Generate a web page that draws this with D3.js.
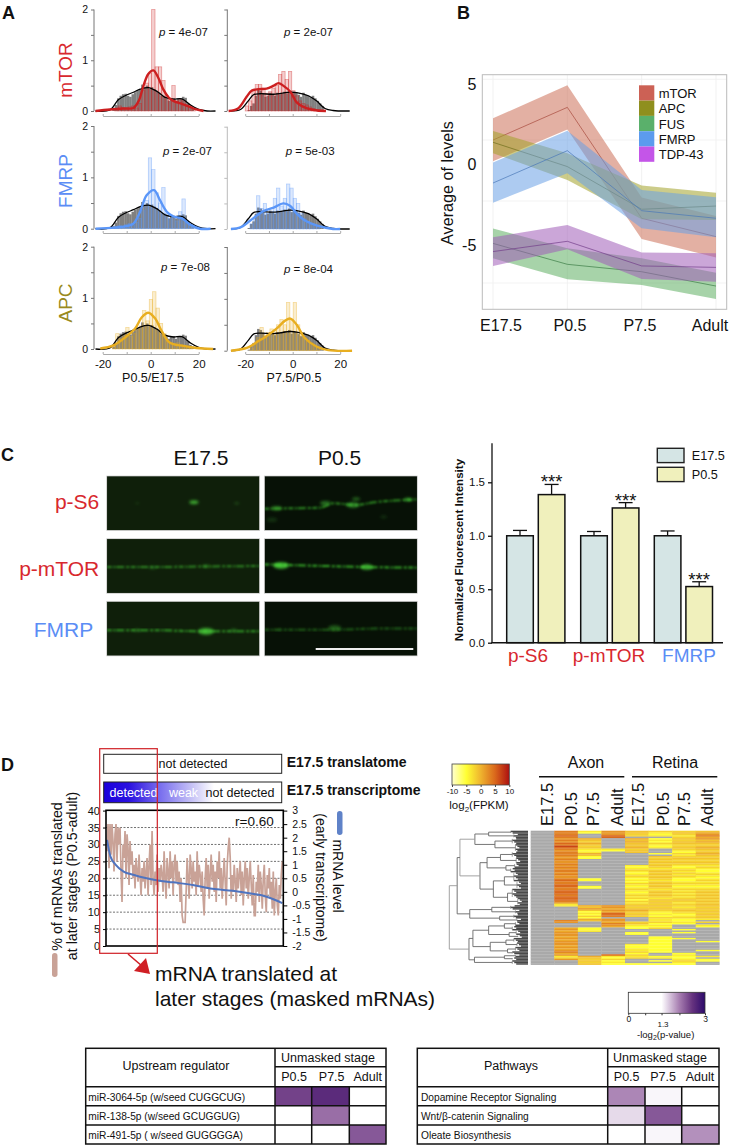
<!DOCTYPE html>
<html><head><meta charset="utf-8">
<script src="https://cdn.jsdelivr.net/npm/d3@7"></script>
<style>
html,body{margin:0;padding:0;background:#fff}
svg{display:block}
text{font-family:"Liberation Sans",Arial,sans-serif;fill:#111}
</style></head><body>
<script>
// ---------- Panel A data ----------
const histStep = 1.4;
const bgLeftStart = -16, bgRightStart = -19;
const bgLeft = [.05,.12,.25,.3,.33,.34,.3,.28,.33,.37,.4,.42,.52,.46,.5,.44,.47,.43,.4,.36,.3,.28,.25,.2,.24,.25,.2,.25,.24,.28,.26,.15,.08,.05];
const bgRight = [.02,.1,.15,.3,.42,.4,.35,.28,.3,.36,.32,.3,.36,.33,.34,.38,.35,.4,.33,.38,.36,.32,.28,.36,.32,.3,.27,.3,.25,.2,.15,.1];
const mtorLeftHist = [.04,.1,.06,.05,.08,.1,.06,.15,.4,.55,.75,2.0,.87,.87,.6,.3,.25,.5,.2,.22,.2,.12,.1,.05];
const mtorRightHist = [.1,.2,.42,.52,.52,.45,.35,.38,.45,.5,.72,.78,.62,.78,.4,.3,.2,.15,.12,.08,.05];
const fmrpLeftHist = [.03,.06,.05,.08,.1,.06,.12,.2,.35,.55,1.38,1.15,.7,.5,.8,.3,.2,.22,.15,.33,.58,.15,.08,.03];
const fmrpRightHist = [.1,.2,.65,.4,.5,.3,.35,.6,.8,.45,.6,.88,.8,.6,.5,.3,.2,.15,.1,.08,.05];
const apcLeftHist = [.08,.3,.2,.28,.42,.25,.3,.4,.45,.75,.55,.97,1.12,.8,.5,.3,.15,.12,.1,.12,.08,.05,.04,.03];
const apcRightHist = [.05,.12,.25,.45,.3,.35,.42,.4,.5,.6,.5,.93,.6,.93,.5,.35,.25,.2,.15,.1,.06];
const blackLeft = [[-23,0],[-17,.02],[-13.5,.22],[-10.7,.3],[-7.2,.37],[-4.4,.43],[-1,.46],[2.5,.39],[6,.27],[9.5,.235],[13,.24],[16.5,.12],[20,.03],[23.5,0],[27,0]];
const blackRight = [[-26,0],[-22,.03],[-18.7,.2],[-16.5,.32],[-13.7,.34],[-8,.33],[-1,.37],[1.7,.36],[6.6,.3],[10,.2],[13.6,.05],[17,.01],[24,0]];
const mtorLeftLine = [[-23,0],[-17,.03],[-11.4,.05],[-7.2,.06],[-5,.2],[-3,.5],[-1,.73],[1.1,.8],[3.2,.65],[5.3,.42],[7.4,.27],[9.4,.2],[13,.14],[16.4,.08],[19,.03],[22,0]];
const mtorRightLine = [[-27,0],[-23,.05],[-19.4,.28],[-17.3,.4],[-14.4,.43],[-11,.44],[-8,.5],[-6,.55],[-4,.5],[-1,.38],[1.7,.17],[4.5,.08],[8.7,.02],[14,0]];
const fmrpLeftLine = [[-23,0],[-10,.05],[-7.2,.1],[-4.4,.33],[-1.7,.65],[1.4,.75],[3.9,.55],[6.7,.33],[9.4,.24],[13,.2],[16.4,.08],[20.5,0],[25,0]];
const fmrpRightLine = [[-26,0],[-22,.03],[-18,.16],[-12.4,.35],[-8,.42],[-4,.5],[-1,.45],[1.7,.3],[5,.17],[10,.07],[17,0],[20,0]];
const apcLeftLine = [[-21,.01],[-15.5,.07],[-10,.25],[-6.5,.4],[-3.7,.62],[-1,.71],[1.8,.6],[4.6,.35],[8,.12],[13.7,.06],[19,.02],[26,0]];
const apcRightLine = [[-26,0],[-19,.06],[-15,.17],[-11,.28],[-6.7,.43],[-3.2,.58],[-1,.62],[1.7,.5],[5,.25],[10,.08],[15,.01],[25,0]];
const mtorLeftStart=-15, mtorRightStart=-20, fmrpLeftStart=-15, fmrpRightStart=-18, apcLeftStart=-16, apcRightStart=-18;
const pValues = ["4e-07","2e-07","2e-07","5e-03","7e-08","8e-04"];
const rowNames = ["mTOR","FMRP","APC"];
const xTicksA = [-20,-10,0,10,20];
const yTicksA = [0,.5,1,1.5,2];

// ---------- Panel B data ----------
const stages = ["E17.5","P0.5","P7.5","Adult"];
const bandNames = ["mTOR","APC","FUS","FMRP","TDP-43"];
const mtorMean=[1.52,3.55,-3.34,-4.48], mtorUp=[2.87,4.92,-2.05,-3.2], mtorLo=[.2,2.18,-4.63,-5.77];
const apcMean=[1.38,-.13,-2.78,-2.58], apcUp=[2.08,.7,-1.31,-1.75], apcLo=[.7,-.96,-3.4,-3.45];
const fusMean=[-4.9,-6.2,-6.66,-7.55], fusUp=[-3.97,-5.2,-5.83,-6.72], fusLo=[-5.83,-7.13,-7.48,-8.35];
const fmrpMean=[-1.15,.86,-2.87,-3.34], fmrpUp=[.13,2.1,-1.58,-2.04], fmrpLo=[-2.37,-.55,-3.96,-4.52];
const tdpMean=[-5.41,-4.77,-6.3,-6.39], tdpUp=[-4.52,-3.76,-5.46,-5.52], tdpLo=[-6.3,-5.27,-7.11,-7.28];

// ---------- Panel C data ----------
const proteins = ["p-S6","p-mTOR","FMRP"];
const e175Bars = [1,1,1], p05Bars = [1.385,1.26,.525];
const e175Err = [1.05,1.04,1.045], p05Err = [1.48,1.31,.57];
// fluorescent traces: [x fraction, y fraction]; spots: [x fraction, y fraction, radius, strength]
const traceS6E = [[0,.5],[.3,.5],[.6,.5],[1,.5]], spotsS6E = [[.57,.48,3.5,.7],[.2,.5,1.5,.2],[.85,.5,2,.25]];
const traceS6P = [[0,.6],[.2,.59],[.37,.58],[.45,.5],[.6,.53],[.72,.48],[.85,.45],[1,.43]], spotsS6P = [[.08,.59,4,.4],[.4,.5,4,.45],[.58,.53,5,.5],[.6,.42,3,.4],[.94,.43,3,.6],[.05,.8,4,.15],[.78,.75,2.5,.15]];
const traceME = [[0,.52],[.3,.52],[.6,.51],[1,.5]], spotsME = [[.65,.5,3,.25],[.3,.53,3,.2]];
const traceMP = [[0,.47],[.12,.48],[.4,.5],[.67,.52],[1,.53]], spotsMP = [[.11,.49,6,.8],[.67,.52,5,.7]];
const traceFE = [[0,.53],[.3,.53],[.65,.55],[1,.55]], spotsFE = [[.65,.55,6,.7],[.83,.53,2.5,.3],[.2,.53,3,.2]];
const traceFP = [[0,.52],[.45,.52],[.72,.5],[1,.5]], spotsFP = [[.46,.49,5,.35],[.1,.52,2,.15]];

// ---------- Panel D data ----------
const translated = [28,36,23,36,27,36,31,22,33,36,25,35,30,35,22,13,30,26,34,20,
33,29,18,31,24,28,20,24,17,26,22,19,27,21,15,23,19,25,17,22,
26,15,24,30,18,34,20,15,22,18,27,16,23,19,24,21,16,28,20,14,
26,22,17,28,20,25,15,24,27,19,25,18,22,13,20,9,7,7,7,16,
26,20,14,27,23,17,25,19,22,15,28,18,24,21,16,22,14,9,20,26,
17,24,14,21,27,19,24,16,22,13,25,20,28,17,23,14,20,26,19,12,
24,29,32,26,14,21,16,24,19,13,23,17,21,25,15,22,12,20,25,17,
23,14,20,25,18,12,21,9,9,19,16,24,13,22,18,11,20,24,15,10,
21,17,23,14,19,11,22,9,16,20,12,9,18,14,21,25];
const mrnaLevel = [[0,1.92],[2,1.3],[5,1],[9.5,.75],[15,.63],[22.6,.5],[28.3,.43],[37.7,.35],[49,.25],[60,.11],[71.7,.04],[83,-.07],[90.6,-.17],[96,-.3],[100,-.42]];
const leftTicksD = [0,5,10,15,20,25,30,35,40];
const rightTicksD = [-2,-1.5,-1,-.5,0,.5,1,1.5,2,2.5,3];

// heatmap: one code per row; '.' = not detected
const heatCodes = {a:-5,b:-3.5,c:-2,d:-1,e:.5,f:2,g:3.5,h:5,i:7};
const axonE175 = ".".repeat(90);
const axonP05 = "ggghgfgfhg ihgfgggffg ffgfgfggfg ffghgghhgg hhhghhhgfb b......... gf...efeff fefefffefe fgefbcf...";
const axonP75 = "ba...edced cdbabedaa. .......... ..aa...aa. .......... edfdabacae d....aab.. .......... ....edcdcd";
const axonAdult = "fffhh..... ..ba...... .......... .......... .......... ffefehhg.f fegfe..... .......... ...hbacaba";
const retinaE175 = "ddcc.ededd decdd..... ...babcbab cbabacbabc babcbcacbc dcdedcdc.. .cdbaa..aa ......baab bcacbc...a";
const retinaP05 = "cbab.abacb ab...a.dcd cdcdcbcdcd cdcbcdcdcb cdcdcbdcdc dcdcbabacb bcabac.... .aaaaaaaaa aa..ab.a.a";
const retinaP75 = "cdcbcdcddc cdcbacbcdc cdcbabcbcb cbaabcbabc bcbcbcdcbc cbcdcbabca aba...a.a. ..a....... ..abaabcba";
const retinaAdult = "defgefdedc dedcdedcdc cdcbcbaabc babcbcbabc cdcdcdcdcd dcdcdcdcdb .c.ba..... ....a..... a...b.aa..";
const heatLegendTicks = [-10,-5,0,5,10];
// dendrogram: [distance, child, child] or terminal [distance, rows]
const dendro = [100,
 [90,
  [86.5,
   [67.5,[50,[22,2],[18,3]],[42,[20,4],[16,5]]],
   [61,
    [52,[35,[20,4],[15,4]],[28,[17,3],[22,3]]],
    [44,[30,[18,6],[14,5]],[26,[20,6],[13,5]]]]],
  [74,[46,[22,3],[16,3]],[36,[18,3],[14,2]]]],
 [75,
  [70,
   [50,[30,[16,3],[20,3]],[24,[15,3],[13,2]]],
   [48,[28,[18,3],[14,3]],[26,[16,3],[20,2]]]],
  [68,[30,[16,2],[20,2]],[20,3]]]];

// tables: value = -log2(p-value) shade per stage
const tableStages = ["P0.5","P7.5","Adult"];
const regulators = ["miR-3064-5p (w/seed CUGGCUG)","miR-138-5p (w/seed GCUGGUG)","miR-491-5p ( w/seed GUGGGGA)"];
const regulatorValues = [[2.4,2.6,0],[0,2.1,0],[0,0,2.25]];
const pathways = ["Dopamine Receptor Signaling","Wnt/β-catenin Signaling","Oleate Biosynthesis"];
const pathwayValues = [[1.95,1.35,0],[1.5,2.25,0],[0,1.35,1.9]];

// ---------- Drawing ----------
const svg = d3.select("body").append("svg").attr("width",736).attr("height",1145);
const defs = svg.append("defs");
defs.append("filter").attr("id","blurA").attr("x","-20%").attr("y","-200%").attr("width","140%").attr("height","500%")
  .append("feGaussianBlur").attr("stdDeviation",.8);
defs.append("filter").attr("id","blurB").attr("x","-100%").attr("y","-100%").attr("width","300%").attr("height","300%")
  .append("feGaussianBlur").attr("stdDeviation",1.8);

function txt(g,x,y,s,size,opt={}){
  const t=g.append("text").attr("x",x).attr("y",y).attr("font-size",size).text(s);
  if(opt.anchor)t.attr("text-anchor",opt.anchor);
  if(opt.weight)t.attr("font-weight",opt.weight);
  if(opt.fill)t.style("fill",opt.fill);
  if(opt.rotate!==undefined)t.attr("transform",`rotate(${opt.rotate} ${x} ${y})`);
  return t;
}
[["A",2,19],["B",457,19],["C",1,461],["D",1,771]].forEach(d=>txt(svg,d[1],d[2],d[0],18,{weight:"bold"}));

// Panel A
const colA = [
 {axis:94,zero:150.7,unit:2.4,labelX:153,label:"P0.5/E17.5",bgStart:bgLeftStart,bg:bgLeft,black:blackLeft},
 {axis:227.3,zero:292.7,unit:2.375,labelX:294,label:"P7.5/P0.5",bgStart:bgRightStart,bg:bgRight,black:blackRight}];
const rowA = [
 {top:[9.5,9.5],zero:[111,111],xAxis:116,color:"#cc1f20",name:"#d8282e",hist:[mtorLeftHist,mtorRightHist],hs:[mtorLeftStart,mtorRightStart],line:[mtorLeftLine,mtorRightLine],pY:[36,36],pX:[159,284],nameY:70},
 {top:[126,126.7],zero:[228.7,229],xAxis:233,color:"#5a96f8",name:"#5b8df5",hist:[fmrpLeftHist,fmrpRightHist],hs:[fmrpLeftStart,fmrpRightStart],line:[fmrpLeftLine,fmrpRightLine],pY:[155,155],pX:[163,285.7],nameY:181},
 {top:[246.7,247],zero:[349,350.7],xAxis:354,color:"#e8ae20",name:"#998a20",hist:[apcLeftHist,apcRightHist],hs:[apcLeftStart,apcRightStart],line:[apcLeftLine,apcRightLine],pY:[270.7,272.7],pX:[161,284],nameY:303}];
const curve = d3.line().curve(d3.curveCatmullRom.alpha(.5));
rowA.forEach((r,ri)=>{
  txt(svg,72,r.nameY,rowNames[ri],19,{anchor:"middle",rotate:-90,fill:r.name});
  colA.forEach((c,ci)=>{
    const g=svg.append("g");
    const x=d3.scaleLinear().domain([-20,20]).range([c.zero-20*c.unit,c.zero+20*c.unit]);
    const y=d3.scaleLinear().domain([0,2]).range([r.zero[ci],r.top[ci]]);
    const axY=d3.axisLeft(y).tickValues(yTicksA).tickSize(3).tickFormat(d=>(ci===0&&Number.isInteger(d))?d:"");
    const ya=g.append("g").attr("transform",`translate(${c.axis},0)`).call(axY);
    ya.selectAll("path,line").attr("stroke",ri===1&&ci===1?"#bbb":"#777");
    ya.selectAll("text").attr("font-size",10.5);
    ya.select(".domain").attr("d",`M0,${r.top[ci]}V${r.zero[ci]}`);
    const axX=d3.axisBottom(x).tickValues(xTicksA).tickSize(-2).tickSizeOuter(0).tickPadding(6).tickFormat(d=>(ri===2&&d%20===0)?d:"");
    const xa=g.append("g").attr("transform",`translate(0,${r.xAxis})`).call(axX);
    xa.selectAll("path,line").attr("stroke","#aaa");
    xa.selectAll("text").attr("font-size",11.5);
    // background histogram
    g.selectAll(".bg").data(c.bg).join("rect")
      .attr("x",(d,i)=>x(c.bgStart+i)).attr("width",x(1)-x(0)+.2)
      .attr("y",d=>y(d)).attr("height",d=>y(0)-y(d)).attr("fill","#808080");
    // stage histogram
    g.selectAll(".h").data(r.hist[ci]).join("rect")
      .attr("x",(d,i)=>x(r.hs[ci]+i*histStep)).attr("width",x(histStep)-x(0))
      .attr("y",d=>y(d)).attr("height",d=>y(0)-y(d))
      .attr("fill",r.color).attr("fill-opacity",.22).attr("stroke",r.color).attr("stroke-opacity",.45).attr("stroke-width",.7);
    g.append("path").attr("d",curve(c.black.map(d=>[x(d[0]),y(d[1])]))).attr("fill","none").attr("stroke","#000").attr("stroke-width",1.3);
    g.append("path").attr("d",curve(r.line[ci].map(d=>[x(d[0]),y(d[1])]))).attr("fill","none").attr("stroke",r.color).attr("stroke-width",2.4);
    const t=txt(g,r.pX[ci],r.pY[ci],"",11.5);
    t.append("tspan").attr("font-style","italic").text("p");
    t.append("tspan").text(" = "+pValues[ri*2+ci]);
  });
});
colA.forEach(c=>txt(svg,c.labelX,382,c.label,12.5,{anchor:"middle"}));

// Panel B
(function(){
  const g=svg.append("g");
  const x=d3.scalePoint().domain(stages).range([493,716]);
  const y=d3.scaleLinear().domain([-5,5]).range([245,84]);
  const L=482.3,R=726.7,T=74.7,B=309.3;
  g.selectAll(".gv").data(stages).join("line").attr("x1",d=>x(d)).attr("x2",d=>x(d)).attr("y1",T).attr("y2",B).attr("stroke","#eee").attr("stroke-width",.8);
  [79.3,140,201,283].forEach(v=>g.append("line").attr("x1",L).attr("x2",R).attr("y1",v).attr("y2",v).attr("stroke","#f0f0f0").attr("stroke-width",.8));
  const series=[[mtorMean,mtorUp,mtorLo,"#cc6f57","#cc6155","#a84a3e"],[apcMean,apcUp,apcLo,"#a3a32a","#8f8f1e","#70701c"],[fusMean,fusUp,fusLo,"#5fae62","#5ab06b","#3c7c46"],[fmrpMean,fmrpUp,fmrpLo,"#6aa0e6","#5c9bee","#4a78b8"],[tdpMean,tdpUp,tdpLo,"#a05db8","#c455e8","#723e8a"]];
  const area=d3.area().x((d,i)=>x(stages[i])).y0(d=>y(d[0])).y1(d=>y(d[1]));
  const line=d3.line().x((d,i)=>x(stages[i])).y(d=>y(d));
  series.forEach(s=>{
    g.append("path").attr("d",area(s[1].map((u,i)=>[s[2][i],u]))).attr("fill",s[3]).attr("fill-opacity",.55);
    g.append("path").attr("d",line(s[0])).attr("fill","none").attr("stroke",s[5]).attr("stroke-width",.7);
  });
  g.append("rect").attr("x",L).attr("y",T).attr("width",R-L).attr("height",B-T).attr("fill","none").attr("stroke","#bbb");
  const yt=g.append("g").attr("transform",`translate(${L},0)`).call(d3.axisLeft(y).tickValues([-5,0,5]).tickSize(0).tickPadding(6).tickFormat(d=>d));
  yt.select(".domain").remove();yt.selectAll("text").attr("font-size",16);
  const labelX=[501,570,640,710];
  stages.forEach((s,i)=>txt(g,labelX[i],331,s,16,{anchor:"middle"}));
  txt(g,453,183,"Average of levels",16.2,{anchor:"middle",rotate:-90});
  bandNames.forEach((n,i)=>{
    g.append("rect").attr("x",639).attr("y",85.3+i*15.3).attr("width",15.3).attr("height",15.3).attr("fill",series[i][4]);
    txt(g,658.7,98+i*15.3,n,13);
  });
})();

// Panel C images
(function(){
  const g=svg.append("g");
  const xs=[106.7,264.3],ys=[476,538.7,601.3],w=153,h=54.6;
  const imgs=[[traceS6E,spotsS6E,.38],[traceS6P,spotsS6P,.65],[traceME,spotsME,.6],[traceMP,spotsMP,.8],[traceFE,spotsFE,.72],[traceFP,spotsFP,.42]];
  const lineF=d3.line().curve(d3.curveMonotoneX);
  imgs.forEach((m,i)=>{
    const X=xs[i%2],Y=ys[Math.floor(i/2)];
    const id="clip"+i;
    defs.append("clipPath").attr("id",id).append("rect").attr("x",X).attr("y",Y).attr("width",w).attr("height",h);
    const im=g.append("g").attr("clip-path",`url(#${id})`);
    const sx=d3.scaleLinear().range([X,X+w]),sy=d3.scaleLinear().range([Y,Y+h]);
    im.append("rect").attr("x",X).attr("y",Y).attr("width",w).attr("height",h).attr("fill",i%2?"#071106":"#0f1f0a");
    im.append("path").attr("d",lineF(m[0].map(d=>[sx(d[0]),sy(d[1])]))).attr("fill","none").attr("stroke","#3fc830").attr("stroke-opacity",m[2]).attr("stroke-width",2).attr("stroke-dasharray","5 1.5 2 1 8 2 3 1.5").attr("filter","url(#blurA)");
    im.selectAll("ellipse").data(m[1]).join("ellipse").attr("cx",d=>sx(d[0])).attr("cy",d=>sy(d[1])).attr("rx",d=>d[2]*1.3).attr("ry",d=>d[2]*.55)
      .attr("fill","#50e040").attr("fill-opacity",d=>d[3]).attr("filter","url(#blurB)");
    g.append("rect").attr("x",X).attr("y",Y).attr("width",w).attr("height",h).attr("fill","none").attr("stroke","#ccc").attr("stroke-width",.7);
  });
  g.append("line").attr("x1",315.7).attr("x2",413.3).attr("y1",649).attr("y2",649).attr("stroke","#eee").attr("stroke-width",1.8);
  txt(g,201,465,"E17.5",21,{anchor:"middle"});
  txt(g,339.5,465,"P0.5",21,{anchor:"middle"});
  txt(g,99.3,509,"p-S6",21,{anchor:"end",fill:"#d8282e"});
  txt(g,99.3,575.7,"p-mTOR",21,{anchor:"end",fill:"#d8282e"});
  txt(g,93.3,637.3,"FMRP",21,{anchor:"end",fill:"#5b8df5"});
})();

// Panel C bars
(function(){
  const g=svg.append("g");
  const y=d3.scaleLinear().domain([0,1.5]).range([642.7,482.3]);
  const offs=[7.7,39.3];
  const cols=["#d5e5e5","#f0f0bc"];
  const nameX=[528,609,689];
  proteins.forEach((p,i)=>{
    const x0=[499,573,646.6][i];
    [[e175Bars,e175Err],[p05Bars,p05Err]].forEach((s,j)=>{
      const bx=x0+offs[j],bw=26.6,c=bx+bw/2,v=s[0][i],e=s[1][i];
      g.append("line").attr("x1",c).attr("x2",c).attr("y1",y(v)).attr("y2",y(e)).attr("stroke","#111").attr("stroke-width",1.3);
      g.append("line").attr("x1",c-7).attr("x2",c+7).attr("y1",y(e)).attr("y2",y(e)).attr("stroke","#111").attr("stroke-width",1.3);
      g.append("rect").attr("x",bx).attr("y",y(v)).attr("width",bw).attr("height",y(0)-y(v)).attr("fill",cols[j]).attr("stroke","#111").attr("stroke-width",1.5);
      if(j===1)txt(g,c,y(e)+4,"***",18.6,{anchor:"middle"});
    });
    txt(g,nameX[i],661.7,p,19,{anchor:"middle",fill:p==="FMRP"?"#5b8df5":"#d8282e"});
  });
  const ya=g.append("g").attr("transform","translate(492,0)").call(d3.axisLeft(y).tickValues([0,.5,1,1.5]).tickSize(4).tickFormat(d3.format(".1f")));
  ya.selectAll("path,line").attr("stroke","#111").attr("stroke-width",1.3);
  ya.select(".domain").attr("d","M0,443.3V642.7");
  ya.selectAll("text").attr("font-size",11.5);
  g.append("line").attr("x1",491.3).attr("x2",723).attr("y1",642.7).attr("y2",642.7).attr("stroke","#111").attr("stroke-width",1.5);
  txt(g,462.7,550,"Normalized Fluorescent Intensity",11.6,{anchor:"middle",rotate:-90,weight:"bold"});
  [["E17.5",448.3,cols[0]],["P0.5",467.3,cols[1]]].forEach(d=>{
    g.append("rect").attr("x",657.3).attr("y",d[1]).attr("width",26.7).attr("height",14.3).attr("fill",d[2]).attr("stroke","#222").attr("stroke-width",1.4);
    txt(g,691.7,d[1]+11.7,d[0],12.7);
  });
})();

// Panel D chart
(function(){
  const g=svg.append("g");
  const grad=defs.append("linearGradient").attr("id","tg");
  [[0,"#1c00dc"],[.14,"#2a10e0"],[.32,"#7a70ee"],[.5,"#c8c4f6"],[.62,"#ffffff"],[1,"#ffffff"]].forEach(d=>grad.append("stop").attr("offset",d[0]).attr("stop-color",d[1]));
  g.append("rect").attr("x",103.7).attr("y",754.3).attr("width",178).attr("height",19).attr("fill","#fff").attr("stroke","#222");
  g.append("rect").attr("x",103.7).attr("y",782).attr("width",178).attr("height",20.7).attr("fill","url(#tg)").attr("stroke","#222");
  txt(g,193,768,"not detected",12.5,{anchor:"middle"});
  txt(g,240,797.3,"not detected",12.5,{anchor:"middle"});
  txt(g,133.5,797.3,"detected",12.5,{anchor:"middle",fill:"#fff"});
  txt(g,183.5,797.3,"weak",12.5,{anchor:"middle",fill:"#fff"});
  txt(g,286.7,766.7,"E17.5 translatome",14,{weight:"bold"});
  txt(g,286.7,795,"E17.5 transcriptome",14,{weight:"bold"});

  const L=106,R=283.3,T=810.3,B=946;
  const y=d3.scaleLinear().domain([0,40]).range([B,B-135.4]);
  const y2=d3.scaleLinear().domain([-2,3]).range([B,B-135.4]);
  const x=d3.scaleLinear().domain([0,translated.length-1]).range([L+1,R-1]);
  const xp=d3.scaleLinear().domain([0,100]).range([L+1,R-1]);
  leftTicksD.filter(d=>d>0&&d<40).forEach(d=>g.append("line").attr("x1",L).attr("x2",R).attr("y1",y(d)).attr("y2",y(d)).attr("stroke","#333").attr("stroke-width",.7).attr("stroke-dasharray","2 1.5"));
  g.append("path").attr("d",d3.line().x((d,i)=>x(i)).y(d=>y(d))(translated)).attr("fill","none").attr("stroke","#c9a297").attr("stroke-width",1.7);
  g.append("path").attr("d",d3.line().curve(d3.curveMonotoneX).x(d=>xp(d[0])).y(d=>y2(d[1]))(mrnaLevel)).attr("fill","none").attr("stroke","#4f74bf").attr("stroke-width",2);
  g.append("rect").attr("x",L).attr("y",T).attr("width",R-L).attr("height",B-T).attr("fill","none").attr("stroke","#000").attr("stroke-width",1.6);
  const la=g.append("g").attr("transform",`translate(${L},0)`).call(d3.axisLeft(y).tickValues(leftTicksD).tickSize(3).tickPadding(3));
  la.select(".domain").remove();la.selectAll("text").attr("font-size",11);
  const ra=g.append("g").attr("transform",`translate(${R},0)`).call(d3.axisRight(y2).tickValues(rightTicksD).tickSize(4).tickPadding(5).tickFormat(d=>d));
  ra.select(".domain").remove();ra.selectAll("text").attr("font-size",10.5);
  txt(g,235,826,"r=0.60",13.5);
  txt(g,62,876.5,"% of mRNAs translated",14.3,{anchor:"middle",rotate:-90});
  txt(g,77,876,"at later stages (P0.5-adult)",14.3,{anchor:"middle",rotate:-90});
  txt(g,316,877.5,"(early transcriptome)",14,{anchor:"middle",rotate:90});
  txt(g,333,876,"mRNA level",14,{anchor:"middle",rotate:90});
  g.append("rect").attr("x",52).attr("y",953).attr("width",5.5).attr("height",24).attr("rx",2.7).attr("fill","#c9a297");
  g.append("rect").attr("x",337).attr("y",811).attr("width",5.5).attr("height",24).attr("rx",2.7).attr("fill","#5f82c8");
  g.append("rect").attr("x",99.7).attr("y",748.7).attr("width",57.6).attr("height",204.6).attr("fill","none").attr("stroke","#d01f25").attr("stroke-width",1.2);
  g.append("line").attr("x1",128).attr("y1",954).attr("x2",142).attr("y2",966).attr("stroke","#d01f25").attr("stroke-width",1.6);
  g.append("path").attr("d","M150,974L134,971L146,958Z").attr("fill","#d01f25");
  txt(g,155,980.7,"mRNA translated at",21);
  txt(g,155,1006,"later stages (masked mRNAs)",21);
})();

// Panel D heatmap
const heatColor = d3.scaleLinear().domain([-10,-5,0,5,10]).range(["#ffffd0","#ffff33","#efb42e","#da681c","#ae1010"]);
(function(){
  const g=svg.append("g");
  const cols=[axonE175,axonP05,axonP75,axonAdult,retinaE175,retinaP05,retinaP75,retinaAdult].map(s=>s.replace(/ /g,"").split(""));
  const colNames=stages.concat(stages);
  const X=d3.scaleBand().domain(d3.range(8)).range([530.7,719.3]);
  const rowCount=90;
  const Y=d3.scaleBand().domain(d3.range(rowCount)).range([830.7,964.7]);
  cols.forEach((col,ci)=>{
    g.selectAll(null).data(col).join("rect")
      .attr("x",X(ci)).attr("width",X.bandwidth()+.3)
      .attr("y",(d,i)=>Y(i)).attr("height",Y.bandwidth()+.2)
      .attr("fill",d=>d==="."?"#a9a9a9":heatColor(heatCodes[d]));
  });
  const baseX=[553.3,576.7,599,622.7,644,669,690,713];
  colNames.forEach((n,i)=>txt(g,baseX[i],826,n,16.5,{rotate:-90}));
  [[539,624.3,586,"Axon"],[632,717.3,675,"Retina"]].forEach(d=>{
    g.append("line").attr("x1",d[0]).attr("x2",d[1]).attr("y1",776.7).attr("y2",776.7).attr("stroke","#111").attr("stroke-width",1.6);
    txt(g,d[2],768,d[3],16,{anchor:"middle"});
  });
  // dendrogram
  const dx=d3.scaleLinear().domain([0,100]).range([528,449.3]);
  let row=0;
  function walk(n){
    if(typeof n[1]==="number"){
      const a=row,b=row+n[1]-1;row+=n[1];
      d3.range(a,b+1).forEach(r=>g.append("line").attr("x1",dx(n[0]-(r%3)*2.5)).attr("x2",dx(0)).attr("y1",Y(r)+.75).attr("y2",Y(r)+.75).attr("stroke","#484848").attr("stroke-width",1.5));
      g.append("line").attr("x1",dx(n[0])).attr("x2",dx(n[0])).attr("y1",Y(a)+.7).attr("y2",Y(b)+.7).attr("stroke","#888").attr("stroke-width",.8);
      return (Y(a)+Y(b))/2+.7;
    }
    const ys=n.slice(1).map(c=>{const yy=walk(c);return [yy,c[0]];});
    const shade=n[0]>95||n[0]>85&&n[0]<88?"#999":"#666";
    g.append("line").attr("x1",dx(n[0])).attr("x2",dx(n[0])).attr("y1",ys[0][0]).attr("y2",ys[ys.length-1][0]).attr("stroke",shade).attr("stroke-width",.9);
    ys.forEach(v=>g.append("line").attr("x1",dx(n[0])).attr("x2",dx(v[1])).attr("y1",v[0]).attr("y2",v[0]).attr("stroke",shade).attr("stroke-width",.9));
    return (ys[0][0]+ys[ys.length-1][0])/2;
  }
  walk(dendro);
  // FPKM legend
  const lx=d3.scaleLinear().domain([-10,10]).range([452,509.3]);
  const hg=defs.append("linearGradient").attr("id","hg");
  heatLegendTicks.forEach((v,i)=>hg.append("stop").attr("offset",i/4).attr("stop-color",heatColor(v)));
  g.append("rect").attr("x",452).attr("y",764).attr("width",57.3).attr("height",21).attr("fill","url(#hg)").attr("stroke","#444").attr("stroke-width",.8);
  const la=g.append("g").attr("transform","translate(0,785)").call(d3.axisBottom(lx).tickValues(heatLegendTicks).tickSize(2).tickPadding(1).tickFormat(d=>d));
  la.select(".domain").remove();la.selectAll("line").attr("stroke","#444");la.selectAll("text").attr("font-size",8);
  const t=txt(g,479,809,"log",11.5,{anchor:"middle"});
  t.append("tspan").attr("font-size",8).attr("dy",2.5).text("2");
  t.append("tspan").attr("dy",-2.5).text("(FPKM)");
})();

// p-value legend + tables
const pColor=d3.scaleLinear().domain([0,1.3,1.5,2,2.5,3]).range(["#ffffff","#ffffff","#e6daea","#a67db0","#66337f","#2d0a6b"]);
(function(){
  const g=svg.append("g");
  const px=d3.scaleLinear().domain([0,3]).range([628.3,705]);
  const pg=defs.append("linearGradient").attr("id","pg");
  [0,1.3,1.5,2,2.5,3].forEach(v=>pg.append("stop").attr("offset",v/3).attr("stop-color",pColor(v)));
  g.append("rect").attr("x",628.3).attr("y",992.3).attr("width",76.7).attr("height",21).attr("fill","url(#pg)").attr("stroke","#333").attr("stroke-width",.8);
  const la=g.append("g").attr("transform","translate(0,1013.3)").call(d3.axisBottom(px).tickValues([0,.66,1.3,2,3]).tickSize(2).tickPadding(1).tickFormat(d=>(d===0||d===3)?d:""));
  la.select(".domain").remove();la.selectAll("line").attr("stroke","#333");la.selectAll("text").attr("font-size",8.5);
  txt(g,663,1026.5,"1.3",8,{anchor:"middle"});
  const t=txt(g,665.7,1037.5,"-log",9.5,{anchor:"middle"});
  t.append("tspan").attr("font-size",7).attr("dy",2).text("2");
  t.append("tspan").attr("dy",-2).text("(p-value)");

  function table(L,D,C1,C2,R,titleX,stageX,unmaskX,textX,title,labels,vals){
    const Ys=[1086.7,1105.7,1125,1144];
    const T=1048.3,M=1066.7;
    const tick=[L,D,C1,C2,R];
    vals.forEach((row,ri)=>row.forEach((v,ci)=>{
      if(v>0) g.append("rect").attr("x",tick[ci+1]).attr("y",Ys[ri]).attr("width",tick[ci+2]-tick[ci+1]).attr("height",Ys[ri+1]-Ys[ri]).attr("fill",pColor(v));
    }));
    const ln=(a,b,c,d)=>g.append("line").attr("x1",a).attr("y1",b).attr("x2",c).attr("y2",d).attr("stroke","#111").attr("stroke-width",1.5);
    g.append("rect").attr("x",L).attr("y",T).attr("width",R-L).attr("height",1144-T).attr("fill","none").attr("stroke","#111").attr("stroke-width",1.5);
    ln(D,T,D,1144);ln(D,M,R,M);
    Ys.slice(0,3).forEach(v=>ln(L,v,R,v));
    [C1,C2].forEach(c=>ln(c,Ys[0],c,1144));
    txt(g,titleX,1070,title,12.5,{anchor:"middle"});
    txt(g,unmaskX,1061.7,"Unmasked stage",12.5,{anchor:"middle"});
    tableStages.forEach((s,i)=>txt(g,stageX[i],1080.7,s,12.5,{anchor:"middle"}));
    labels.forEach((s,i)=>txt(g,textX,[1101,1120,1139][i],s,10.2));
  }
  table(85.7,275,311.7,349.3,386,176,[294,331.7,367.7],328,88.3,"Upstream regulator",regulators,regulatorValues);
  table(417.3,607.7,645,681.7,719,511,[626.7,663,700],660,421,"Pathways",pathways,pathwayValues);
})();
</script>
</body></html>
